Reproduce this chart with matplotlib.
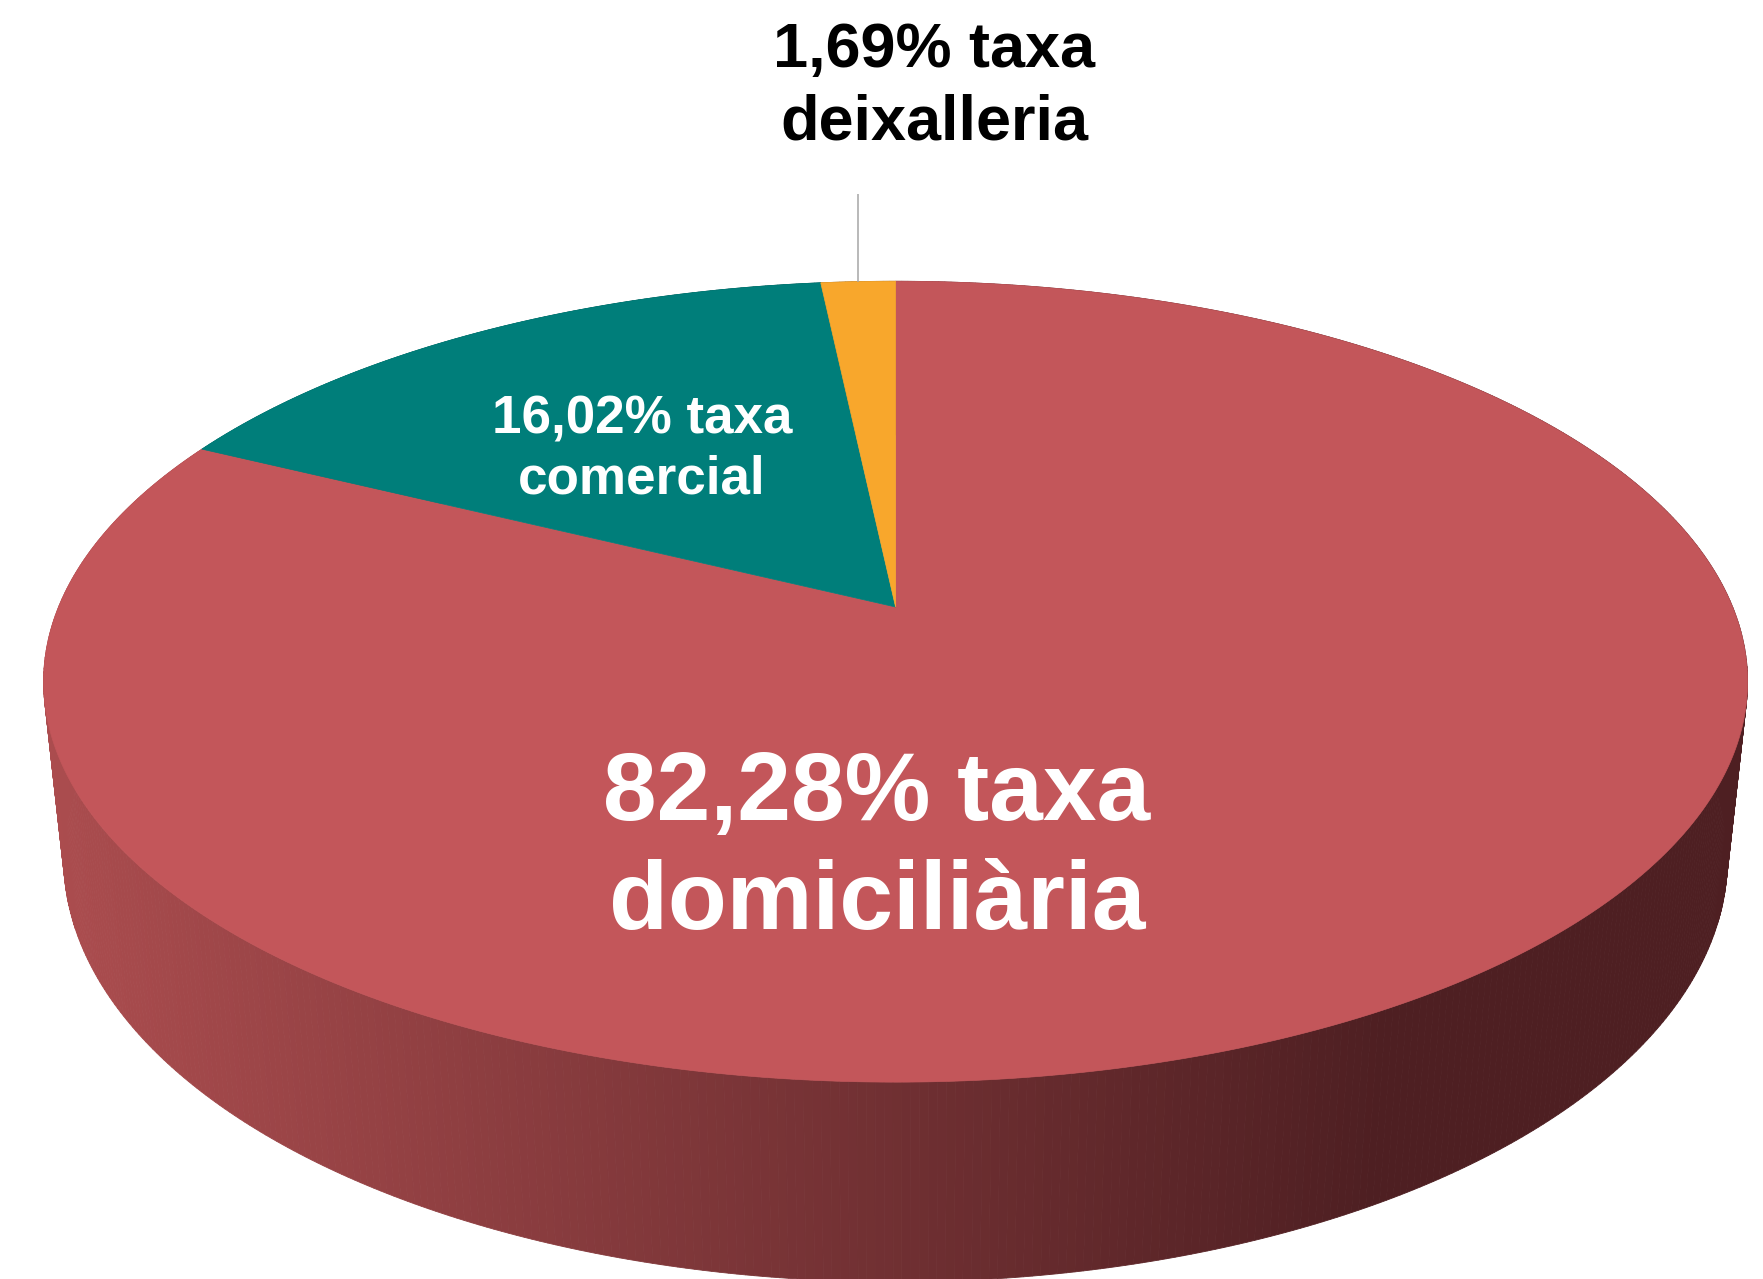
import numpy as np
import matplotlib
matplotlib.use("Agg")
import matplotlib.pyplot as plt
from matplotlib.patches import Polygon

# Shares of the waste-tax revenue (percent), clockwise from 12 o'clock
shares = [82.28, 16.02, 1.69]
line1 = ["82,28% taxa", "16,02% taxa", "1,69% taxa"]
line2 = ["domiciliària", "comercial", "deixalleria"]
top_colors = ["#C3565A", "#007E7A", "#F8A72C"]

W, H = 1763, 1279
fig = plt.figure(figsize=(W / 100, H / 100), dpi=100)
ax = fig.add_axes([0, 0, 1, 1])
ax.set_xlim(0, W)
ax.set_ylim(H, 0)
ax.axis("off")

# Perspective camera looking down on a unit-radius disc
theta = np.radians(27.5)
dist = 4.756
focal = 3981.0
cx, cy = 895.6, 607.0
thickness = 0.24

cam = np.array([0.0, -dist * np.cos(theta), dist * np.sin(theta)])
fwd = np.array([0.0, np.cos(theta), -np.sin(theta)])
up = np.array([0.0, np.sin(theta), np.cos(theta)])


def project(x, y, z):
    d = np.stack([np.asarray(x, float) - cam[0],
                  np.asarray(y, float) - cam[1],
                  np.asarray(z, float) - cam[2]], axis=-1)
    depth = d @ fwd
    px = cx + focal * d[..., 0] / depth
    py = cy - focal * (d @ up) / depth
    return px, py, depth


def rim(a_deg, z):
    a = np.radians(a_deg)
    return project(np.sin(a), np.cos(a), np.full_like(a, z, dtype=float))


# slice boundaries in degrees, clockwise from the far point
total = sum(shares)
bounds = np.concatenate([[0.0], np.cumsum(shares) / total * 360.0])


def side_color(base, x):
    # horizontal shading of the wall: lighter on the left, dark on the right
    t = np.clip((x - 43.0) / (1380.0 - 43.0), 0, 1)
    left = np.array([172, 77, 79]) / 255.0
    right = np.array([78, 31, 34]) / 255.0
    ref = np.array(matplotlib.colors.to_rgb(top_colors[0]))
    base = np.array(matplotlib.colors.to_rgb(base))
    c = (left + (right - left) * t) / ref * base
    return np.clip(c, 0, 1)


# side wall, drawn far-to-near
quads = []
for i in range(len(shares)):
    a = np.linspace(bounds[i], bounds[i + 1], max(int((bounds[i + 1] - bounds[i]) / 0.5), 2) + 1)
    tx, ty, td = rim(a, 0.0)
    bx, by, bd = rim(a, -thickness)
    for k in range(len(a) - 1):
        pts = [(tx[k], ty[k]), (tx[k + 1], ty[k + 1]), (bx[k + 1], by[k + 1]), (bx[k], by[k])]
        depth = (td[k] + td[k + 1] + bd[k] + bd[k + 1]) / 4
        xm = (tx[k] + tx[k + 1] + bx[k] + bx[k + 1]) / 4
        quads.append((depth, pts, side_color(top_colors[i], xm)))
quads.sort(key=lambda q: -q[0])
for _, pts, col in quads:
    ax.add_patch(Polygon(pts, closed=True, facecolor=col, edgecolor=col, linewidth=0.6))

# top face wedges
ox, oy, _ = project(0.0, 0.0, 0.0)
for i in range(len(shares)):
    a = np.linspace(bounds[i], bounds[i + 1], max(int((bounds[i + 1] - bounds[i]) / 0.5), 2) + 1)
    tx, ty, _ = rim(a, 0.0)
    pts = [(ox, oy)] + list(zip(tx, ty))
    ax.add_patch(Polygon(pts, closed=True, facecolor=top_colors[i],
                         edgecolor=top_colors[i], linewidth=0.5))

# leader line for the small slice
mid = (bounds[2] + bounds[3]) / 2
lx, ly, _ = rim(np.array([mid]), 0.0)
ax.plot([lx[0], lx[0]], [194, ly[0]], color="#A6A6A6", linewidth=1.1, solid_capstyle="butt")

bold = dict(fontweight="bold", ha="center", va="baseline")
sans = ["Liberation Sans", "DejaVu Sans"]

ax.text(877, 820, line1[0], family=sans, fontsize=69.5, color="white", **bold)
ax.text(877, 929, line2[0], family=sans, fontsize=69.5, color="white", **bold)
ax.text(642, 433, line1[1], family=sans, fontsize=38.2, color="white", **bold)
ax.text(642, 493, line2[1], family=sans, fontsize=38.2, color="white", **bold)
ax.text(934, 67, line1[2], family=sans, fontsize=45.4, color="black", **bold)
ax.text(934, 140, line2[2], family=sans, fontsize=45.4, color="black", **bold)

fig.savefig("out.png", dpi=100, facecolor="white")
